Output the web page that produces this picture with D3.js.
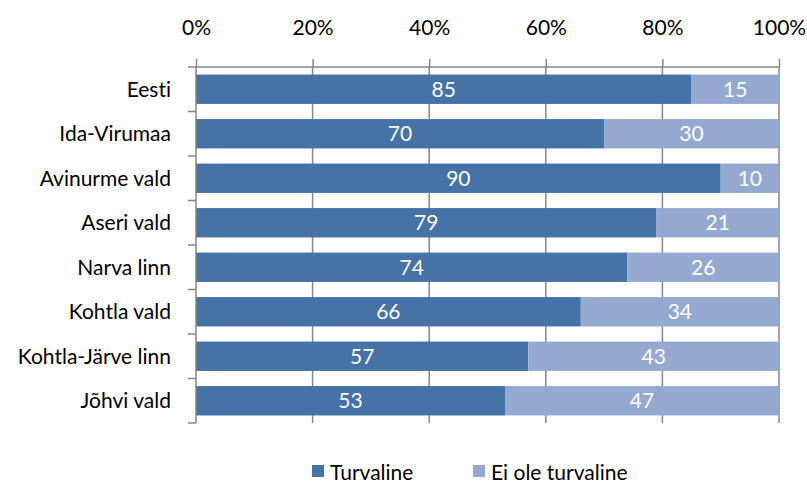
<!DOCTYPE html>
<html><head><meta charset="utf-8">
<script src="https://cdn.jsdelivr.net/npm/d3@7"></script>
<style>body{margin:0;background:#fff}svg{display:block}text{font-family:Lato,"Open Sans",sans-serif;font-variant-ligatures:none;font-feature-settings:"liga" 0,"dlig" 0}</style>
</head><body><svg id="c" width="807" height="484"></svg>
<script>
const categories = ["Eesti","Ida-Virumaa","Avinurme vald","Aseri vald","Narva linn","Kohtla vald","Kohtla-Järve linn","Jõhvi vald"];
const turvaline = [85,70,90,79,74,66,57,53];
const eiOle = [15,30,10,21,26,34,43,47];
const seriesNames = ["Turvaline","Ei ole turvaline"];
const colors = ["#4673A7","#95A9D0"];
const ticks = [0,20,40,60,80,100];

const FS = 21;
const svg = d3.select("#c");
const L=196,R=779,T=67,B=423;
const x = d3.scaleLinear().domain([0,100]).range([L,R]);
const y = d3.scaleBand().domain(categories).range([T,B]).paddingInner(0.34).paddingOuter(0.17);
const yb = d3.scaleBand().domain(categories).range([T,B]);

// gridlines
svg.append("g").selectAll("line").data(ticks.slice(1)).join("line")
  .attr("x1",d=>x(d)).attr("x2",d=>x(d)).attr("y1",T).attr("y2",B)
  .attr("stroke","#868686").attr("stroke-width",1.5);

const rows = categories.map((c,i)=>({c,a:turvaline[i],b:eiOle[i]}));
const g = svg.append("g");
rows.forEach(r=>{
  const segs=[{x0:0,x1:r.a,v:r.a,col:colors[0]},{x0:r.a,x1:r.a+r.b,v:r.b,col:colors[1]}];
  segs.forEach(s=>{
    g.append("rect").attr("x",x(s.x0)).attr("width",x(s.x1)-x(s.x0))
      .attr("y",y(r.c)).attr("height",y.bandwidth()).attr("fill",s.col);
    g.append("text").attr("x",(x(s.x0)+x(s.x1))/2).attr("y",y(r.c)+y.bandwidth()/2)
      .attr("dy","0.36em").attr("text-anchor","middle").attr("fill","#fff")
      .attr("font-size",FS).text(s.v);
  });
});

// top axis
const ax = svg.append("g").attr("transform",`translate(0,${T})`)
  .call(d3.axisTop(x).tickValues(ticks).tickFormat(d=>d+"%").tickSize(8).tickPadding(24));
ax.select(".domain").attr("stroke","#868686").attr("stroke-width",1.5).attr("d",`M${L},0H${R}`);
ax.selectAll(".tick line").attr("stroke","#868686").attr("stroke-width",1.5);
ax.selectAll("text").attr("font-size",FS).attr("fill","#000").attr("font-family","Lato");

// left axis
const ay = svg.append("g").attr("transform",`translate(${L},0)`);
ay.append("line").attr("x1",0).attr("x2",0).attr("y1",T).attr("y2",B).attr("stroke","#868686").attr("stroke-width",1.5);
const bounds = categories.map(c=>yb(c)).concat([B]);
ay.selectAll("line.t").data(bounds).join("line").attr("class","t")
  .attr("x1",-8).attr("x2",0).attr("y1",d=>d).attr("y2",d=>d).attr("stroke","#868686").attr("stroke-width",1.5);
ay.selectAll("text").data(categories).join("text")
  .attr("x",-25).attr("y",d=>yb(d)+yb.bandwidth()/2).attr("dy","0.36em")
  .attr("text-anchor","end").attr("font-size",FS).attr("fill","#000").text(d=>d);

// legend
const lg = svg.append("g");
const lx=[312,473];
seriesNames.forEach((n,i)=>{
  lg.append("rect").attr("x",lx[i]).attr("y",465).attr("width",12).attr("height",12).attr("fill",colors[i]);
  lg.append("text").attr("x",lx[i]+18).attr("y",472).attr("dy","0.36em").attr("font-size",FS).attr("fill","#000").text(n);
});
</script></body></html>
